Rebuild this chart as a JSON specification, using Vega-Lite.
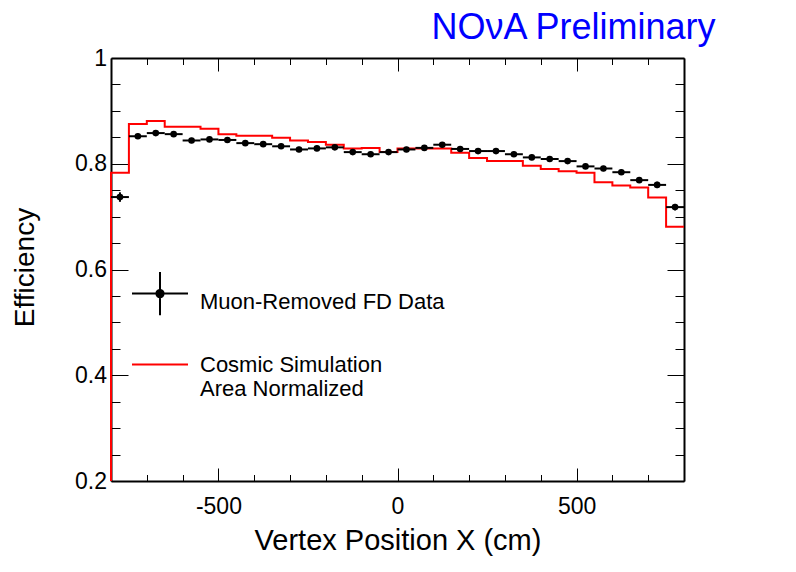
{
  "$schema": "https://vega.github.io/schema/vega-lite/v6.json",
  "width": 573,
  "height": 423,
  "autosize": "none",
  "padding": {"left": 111, "top": 58, "right": 112, "bottom": 91},
  "background": "white",
  "config": {
    "font": "Liberation Sans",
    "view": {"stroke": null}
  },
  "datasets": {
    "bins": [
      {"lo": -800, "hi": -750, "x": -775, "eff": 0.737, "err": 0.009},
      {"lo": -750, "hi": -700, "x": -725, "eff": 0.852, "err": 0.005},
      {"lo": -700, "hi": -650, "x": -675, "eff": 0.858, "err": 0.005},
      {"lo": -650, "hi": -600, "x": -625, "eff": 0.856, "err": 0.005},
      {"lo": -600, "hi": -550, "x": -575, "eff": 0.844, "err": 0.005},
      {"lo": -550, "hi": -500, "x": -525, "eff": 0.846, "err": 0.005},
      {"lo": -500, "hi": -450, "x": -475, "eff": 0.845, "err": 0.005},
      {"lo": -450, "hi": -400, "x": -425, "eff": 0.839, "err": 0.005},
      {"lo": -400, "hi": -350, "x": -375, "eff": 0.837, "err": 0.005},
      {"lo": -350, "hi": -300, "x": -325, "eff": 0.833, "err": 0.005},
      {"lo": -300, "hi": -250, "x": -275, "eff": 0.827, "err": 0.005},
      {"lo": -250, "hi": -200, "x": -225, "eff": 0.829, "err": 0.005},
      {"lo": -200, "hi": -150, "x": -175, "eff": 0.831, "err": 0.005},
      {"lo": -150, "hi": -100, "x": -125, "eff": 0.822, "err": 0.005},
      {"lo": -100, "hi": -50, "x": -75, "eff": 0.818, "err": 0.005},
      {"lo": -50, "hi": 0, "x": -25, "eff": 0.822, "err": 0.005},
      {"lo": 0, "hi": 50, "x": 25, "eff": 0.827, "err": 0.005},
      {"lo": 50, "hi": 100, "x": 75, "eff": 0.830, "err": 0.005},
      {"lo": 100, "hi": 150, "x": 125, "eff": 0.836, "err": 0.005},
      {"lo": 150, "hi": 200, "x": 175, "eff": 0.828, "err": 0.005},
      {"lo": 200, "hi": 250, "x": 225, "eff": 0.824, "err": 0.005},
      {"lo": 250, "hi": 300, "x": 275, "eff": 0.824, "err": 0.005},
      {"lo": 300, "hi": 350, "x": 325, "eff": 0.818, "err": 0.005},
      {"lo": 350, "hi": 400, "x": 375, "eff": 0.812, "err": 0.005},
      {"lo": 400, "hi": 450, "x": 425, "eff": 0.809, "err": 0.005},
      {"lo": 450, "hi": 500, "x": 475, "eff": 0.805, "err": 0.005},
      {"lo": 500, "hi": 550, "x": 525, "eff": 0.795, "err": 0.005},
      {"lo": 550, "hi": 600, "x": 575, "eff": 0.791, "err": 0.005},
      {"lo": 600, "hi": 650, "x": 625, "eff": 0.784, "err": 0.005},
      {"lo": 650, "hi": 700, "x": 675, "eff": 0.769, "err": 0.005},
      {"lo": 700, "hi": 750, "x": 725, "eff": 0.760, "err": 0.006},
      {"lo": 750, "hi": 800, "x": 775, "eff": 0.718, "err": 0.006}
    ],
    "sim": [
      {"x": -800, "eff": 0.2, "series": "Cosmic Simulation"},
      {"x": -800, "eff": 0.783, "series": "Cosmic Simulation"},
      {"x": -750, "eff": 0.875, "series": "Cosmic Simulation"},
      {"x": -700, "eff": 0.881, "series": "Cosmic Simulation"},
      {"x": -650, "eff": 0.870, "series": "Cosmic Simulation"},
      {"x": -600, "eff": 0.870, "series": "Cosmic Simulation"},
      {"x": -550, "eff": 0.866, "series": "Cosmic Simulation"},
      {"x": -500, "eff": 0.856, "series": "Cosmic Simulation"},
      {"x": -450, "eff": 0.853, "series": "Cosmic Simulation"},
      {"x": -400, "eff": 0.853, "series": "Cosmic Simulation"},
      {"x": -350, "eff": 0.849, "series": "Cosmic Simulation"},
      {"x": -300, "eff": 0.844, "series": "Cosmic Simulation"},
      {"x": -250, "eff": 0.841, "series": "Cosmic Simulation"},
      {"x": -200, "eff": 0.836, "series": "Cosmic Simulation"},
      {"x": -150, "eff": 0.829, "series": "Cosmic Simulation"},
      {"x": -100, "eff": 0.830, "series": "Cosmic Simulation"},
      {"x": -50, "eff": 0.822, "series": "Cosmic Simulation"},
      {"x": 0, "eff": 0.829, "series": "Cosmic Simulation"},
      {"x": 50, "eff": 0.829, "series": "Cosmic Simulation"},
      {"x": 100, "eff": 0.829, "series": "Cosmic Simulation"},
      {"x": 150, "eff": 0.821, "series": "Cosmic Simulation"},
      {"x": 200, "eff": 0.811, "series": "Cosmic Simulation"},
      {"x": 250, "eff": 0.805, "series": "Cosmic Simulation"},
      {"x": 300, "eff": 0.805, "series": "Cosmic Simulation"},
      {"x": 350, "eff": 0.796, "series": "Cosmic Simulation"},
      {"x": 400, "eff": 0.790, "series": "Cosmic Simulation"},
      {"x": 450, "eff": 0.786, "series": "Cosmic Simulation"},
      {"x": 500, "eff": 0.783, "series": "Cosmic Simulation"},
      {"x": 550, "eff": 0.765, "series": "Cosmic Simulation"},
      {"x": 600, "eff": 0.759, "series": "Cosmic Simulation"},
      {"x": 650, "eff": 0.755, "series": "Cosmic Simulation"},
      {"x": 700, "eff": 0.736, "series": "Cosmic Simulation"},
      {"x": 750, "eff": 0.681, "series": "Cosmic Simulation"},
      {"x": 800, "eff": 0.681, "series": "Cosmic Simulation"}
    ]
  },
  "resolve": {"axis": {"x": "independent", "y": "independent"}},
  "layer": [
    {
      "data": {"name": "sim"},
      "mark": {"type": "line", "interpolate": "step-after", "strokeWidth": 2, "clip": false},
      "encoding": {
        "x": {
          "field": "x",
          "type": "quantitative",
          "scale": {"domain": [-800, 800], "nice": false, "zero": false},
          "axis": {
            "orient": "bottom",
            "values": [-700, -600, -500, -400, -300, -200, -100, 0, 100, 200, 300, 400, 500, 600, 700],
            "labelExpr": "datum.value % 500 === 0 ? toString(datum.value) : ''",
            "tickSize": {"condition": {"test": "datum.value % 500 === 0", "value": -13}, "value": -6.5},
            "tickWidth": 1,
            "tickColor": "black",
            "domainColor": "black",
            "domainWidth": 2,
            "grid": false,
            "labelFont": "Liberation Sans",
            "labelFontSize": 23,
            "labelColor": "black",
            "labelPadding": 27,
            "labelFlush": false,
            "labelOverlap": false,
            "labelBound": false,
            "title": "Vertex Position X (cm)",
            "titleFont": "Liberation Sans",
            "titleFontSize": 29,
            "titleFontWeight": "normal",
            "titleColor": "black",
            "titleBaseline": "alphabetic",
            "titleY": 68
          }
        },
        "y": {
          "field": "eff",
          "type": "quantitative",
          "scale": {"domain": [0.2, 1], "nice": false, "zero": false},
          "axis": {
            "orient": "left",
            "values": [0.2, 0.25, 0.3, 0.35, 0.4, 0.45, 0.5, 0.55, 0.6, 0.65, 0.7, 0.75, 0.8, 0.85, 0.9, 0.95, 1],
            "labelExpr": "round(datum.value * 100) % 20 === 0 ? toString(round(datum.value * 10) / 10) : ''",
            "tickSize": {"condition": {"test": "round(datum.value * 100) % 20 === 0", "value": -17}, "value": -9},
            "tickWidth": 1,
            "tickColor": "black",
            "domainColor": "black",
            "domainWidth": 2,
            "grid": false,
            "labelFont": "Liberation Sans",
            "labelFontSize": 23,
            "labelColor": "black",
            "labelPadding": 21.5,
            "labelFlush": false,
            "labelOverlap": false,
            "labelBound": false,
            "title": "Efficiency",
            "titleFont": "Liberation Sans",
            "titleFontSize": 28,
            "titleFontWeight": "normal",
            "titleColor": "black",
            "titleBaseline": "alphabetic",
            "titleX": -77.5,
            "titleY": 209
          }
        },
        "color": {
          "field": "series",
          "type": "nominal",
          "scale": {"domain": ["Muon-Removed FD Data", "Cosmic Simulation"], "range": ["#000000", "#ff0000"]},
          "legend": {
            "orient": "none",
            "legendX": 20,
            "legendY": 215,
            "padding": 0,
            "title": null,
            "symbolSize": 3136,
            "symbolStrokeWidth": 2,
            "rowPadding": 15.5,
            "labelOffset": 11,
            "labelFont": "Liberation Sans",
            "labelFontSize": 22,
            "labelColor": "black",
            "labelLimit": 400,
            "labelExpr": "datum.value === 'Cosmic Simulation' ? ['Cosmic Simulation', 'Area Normalized'] : datum.label",
            "encode": {
              "symbols": {
                "update": {
                  "shape": {"signal": "datum.value === 'Cosmic Simulation' ? 'M-1,0H1' : 'M-1,-0.3H1M0,-1.07V0.47M-0.13,-0.3A0.13,0.13 0 1 0 0.13,-0.3A0.13,0.13 0 1 0 -0.13,-0.3Z'"},
                  "fill": {"value": "black"},
                  "strokeWidth": {"value": 2}
                }
              }
            }
          }
        },
        "order": {"value": null}
      }
    },
    {
      "data": {"name": "bins"},
      "mark": {"type": "rule", "color": "black", "strokeWidth": 2},
      "encoding": {
        "x": {
          "field": "lo",
          "type": "quantitative",
          "scale": {"domain": [-800, 800], "nice": false, "zero": false},
          "axis": {
            "orient": "top",
            "values": [-700, -600, -500, -400, -300, -200, -100, 0, 100, 200, 300, 400, 500, 600, 700],
            "labels": false,
            "tickSize": {"condition": {"test": "datum.value % 500 === 0", "value": -13}, "value": -6.5},
            "tickWidth": 1,
            "tickColor": "black",
            "domainColor": "black",
            "domainWidth": 2,
            "grid": false,
            "title": "NOνA Preliminary",
            "titleFont": "Liberation Sans",
            "titleFontSize": 36,
            "titleFontWeight": "normal",
            "titleColor": "#0000ff",
            "titleAlign": "right",
            "titleBaseline": "alphabetic",
            "titleX": 604,
            "titleY": -20
          }
        },
        "x2": {"field": "hi"},
        "y": {
          "field": "eff",
          "type": "quantitative",
          "scale": {"domain": [0.2, 1], "nice": false, "zero": false},
          "axis": {
            "orient": "right",
            "values": [0.2, 0.25, 0.3, 0.35, 0.4, 0.45, 0.5, 0.55, 0.6, 0.65, 0.7, 0.75, 0.8, 0.85, 0.9, 0.95, 1],
            "labels": false,
            "tickSize": {"condition": {"test": "round(datum.value * 100) % 20 === 0", "value": -17}, "value": -9},
            "tickWidth": 1,
            "tickColor": "black",
            "domainColor": "black",
            "domainWidth": 2,
            "grid": false,
            "title": null
          }
        }
      }
    },
    {
      "data": {"name": "bins"},
      "mark": {"type": "errorbar", "color": "black", "thickness": 2},
      "encoding": {
        "x": {"field": "x", "type": "quantitative", "scale": {"domain": [-800, 800], "nice": false, "zero": false}, "axis": null},
        "y": {"field": "eff", "type": "quantitative", "scale": {"domain": [0.2, 1], "nice": false, "zero": false}, "axis": null},
        "yError": {"field": "err"}
      }
    },
    {
      "data": {"name": "bins"},
      "mark": {"type": "point", "shape": "circle", "filled": true, "color": "black", "size": 44, "opacity": 1},
      "encoding": {
        "x": {"field": "x", "type": "quantitative", "scale": {"domain": [-800, 800], "nice": false, "zero": false}, "axis": null},
        "y": {"field": "eff", "type": "quantitative", "scale": {"domain": [0.2, 1], "nice": false, "zero": false}, "axis": null}
      }
    }
  ]
}
